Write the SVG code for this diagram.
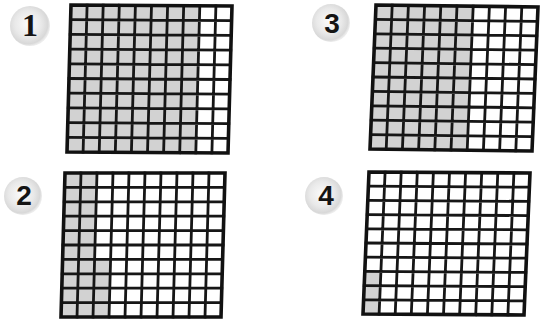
<svg xmlns="http://www.w3.org/2000/svg" width="541" height="320" viewBox="0 0 541 320">
<style>
.bg{fill:#fff}
.cell{fill:#d2d2d2}
.gl{fill:none;stroke:#161616;stroke-width:2.8;vector-effect:non-scaling-stroke;stroke-linecap:square}
.bd{fill:none;stroke:#111;stroke-width:3.6;vector-effect:non-scaling-stroke}
.badge{fill:url(#bg)}
.num{font-family:"Liberation Sans",Arial,sans-serif;font-weight:bold;font-size:28px;fill:#141414;text-anchor:middle}
.serif{font-family:"Liberation Serif","Times New Roman",serif;font-size:32px}
</style>
<defs>
<radialGradient id="bg" cx="0.45" cy="0.45" r="0.55">
<stop offset="0" stop-color="#fbfbfb"/>
<stop offset="0.6" stop-color="#e9e9e9"/>
<stop offset="0.9" stop-color="#d8d8d8"/>
<stop offset="1" stop-color="#ececec"/>
</radialGradient>
</defs>
<rect class="bg" width="541" height="320"/>

<g id="label1"><circle class="badge" cx="30" cy="26" r="20"/><text class="num serif" x="30" y="36">1</text></g>
<g id="label3"><circle class="badge" cx="331" cy="23" r="19"/><text class="num" x="332" y="33">3</text></g>
<g id="label2"><circle class="badge" cx="23" cy="196" r="19"/><text class="num" x="24" y="205">2</text></g>
<g id="label4"><circle class="badge" cx="324" cy="196" r="19"/><text class="num" x="326" y="205">4</text></g>

<g id="grid1" transform="matrix(16.1 0.1 -0.4 14.7 71 5)">
<rect class="cell" x="0" y="0" width="8" height="10"/>
<path class="gl" d="M0 1H10M0 2H10M0 3H10M0 4H10M0 5H10M0 6H10M0 7H10M0 8H10M0 9H10M1 0V10M2 0V10M3 0V10M4 0V10M5 0V10M6 0V10M7 0V10M8 0V10M9 0V10"/>
<rect class="bd" x="0" y="0" width="10" height="10"/>
</g>

<g id="grid3" transform="matrix(16.2 0.2 -0.6 14.4 376 5)">
<rect class="cell" x="0" y="0" width="6" height="10"/>
<path class="gl" d="M0 1H10M0 2H10M0 3H10M0 4H10M0 5H10M0 6H10M0 7H10M0 8H10M0 9H10M1 0V10M2 0V10M3 0V10M4 0V10M5 0V10M6 0V10M7 0V10M8 0V10M9 0V10"/>
<rect class="bd" x="0" y="0" width="10" height="10"/>
</g>

<g id="grid2" transform="matrix(16 0 -0.4 14.4 65 173)">
<rect class="cell" x="0" y="0" width="2" height="10"/>
<rect class="cell" x="2" y="6" width="1" height="4"/>
<path class="gl" d="M0 1H10M0 2H10M0 3H10M0 4H10M0 5H10M0 6H10M0 7H10M0 8H10M0 9H10M1 0V10M2 0V10M3 0V10M4 0V10M5 0V10M6 0V10M7 0V10M8 0V10M9 0V10"/>
<rect class="bd" x="0" y="0" width="10" height="10"/>
</g>

<g id="grid4" transform="matrix(16.1 0.1 -0.6 14.2 369 172)">
<rect class="cell" x="0" y="7" width="1" height="3"/>
<path class="gl" d="M0 1H10M0 2H10M0 3H10M0 4H10M0 5H10M0 6H10M0 7H10M0 8H10M0 9H10M1 0V10M2 0V10M3 0V10M4 0V10M5 0V10M6 0V10M7 0V10M8 0V10M9 0V10"/>
<rect class="bd" x="0" y="0" width="10" height="10"/>
</g>
</svg>
